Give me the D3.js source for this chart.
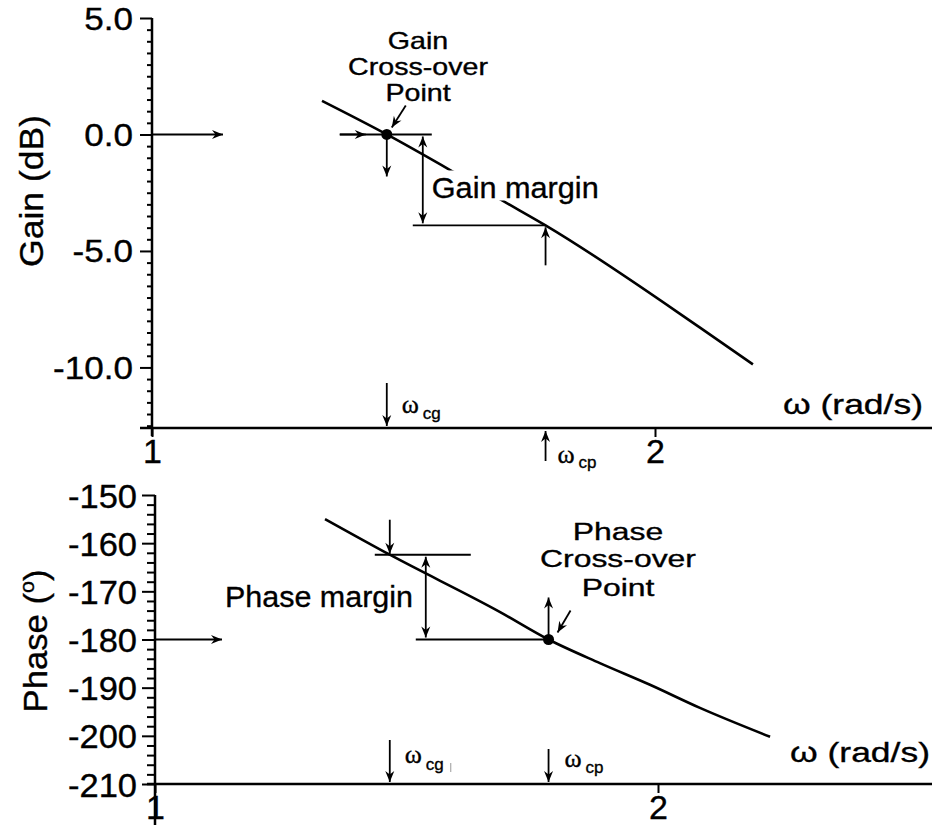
<!DOCTYPE html>
<html><head><meta charset="utf-8">
<script src="https://cdn.jsdelivr.net/npm/d3@7"></script>
<style>html,body{margin:0;padding:0;background:#fff;} svg{display:block;} text{stroke:#000;stroke-width:0.35px;}</style>
</head><body><svg id="c" width="932" height="825"></svg>
<script>
// ---------- data ----------
const gainOmega = [1.264, 1.382, 1.514, 1.622, 1.72, 2.128, 2.289];
const gainDb    = [1.44, 0.0, -1.6, -2.85, -3.9, -8.29, -9.87];
const phaseOmega = [1.264, 1.382, 1.609, 1.72, 1.846, 1.978, 2.119, 2.334];
const phaseDeg   = [-155.0, -162.4, -174.3, -180.0, -184.9, -189.4, -194.2, -200.2];
const gainMajorTicks  = [5, 0, -5, -10];
const phaseMajorTicks = [-150, -160, -170, -180, -190, -200, -210];
const freqTicks = [1, 2];
const omegaCg = 1.382, omegaCp = 1.72;
const gainCross = 0, gainMarginDb = -3.9;
const phaseCross = -180, phaseAtCg = -162.4;

// ---------- setup ----------
const SANS = "'Liberation Sans', Arial, Helvetica, sans-serif";
const SERIF = "'Liberation Serif', 'Times New Roman', serif";
const W = 932;
const svg = d3.select("#c");

svg.append("defs").append("marker")
  .attr("id", "ah").attr("viewBox", "-12 -6 14 12")
  .attr("refX", 0).attr("refY", 0)
  .attr("markerWidth", 14).attr("markerHeight", 12)
  .attr("markerUnits", "userSpaceOnUse").attr("orient", "auto-start-reverse")
  .append("path").attr("d", "M0,0 L-11,-4.5 L-7.5,0 L-11,4.5 Z").attr("fill", "#000");

function line(x1, y1, x2, y2, w = 1.8) {
  return svg.append("line").attr("x1", x1).attr("y1", y1).attr("x2", x2).attr("y2", y2)
    .attr("stroke", "#000").attr("stroke-width", w);
}
function arrow(x1, y1, x2, y2, both = false) {
  const p = svg.append("path").attr("d", `M${x1},${y1}L${x2},${y2}`)
    .attr("stroke", "#000").attr("stroke-width", 1.8).attr("fill", "none")
    .attr("marker-end", "url(#ah)");
  if (both) p.attr("marker-start", "url(#ah)");
  return p;
}
function txt(x, y, s, size, opt = {}) {
  const g = svg.append("g");
  const t = g.append("text").attr("font-size", size).attr("font-family", opt.family || SANS)
    .attr("text-anchor", opt.anchor || "start").attr("fill", "#000").text(s);
  let sx = 1;
  if (opt.width) sx = opt.width / t.node().getComputedTextLength();
  if (opt.sx) sx = opt.sx;
  g.attr("transform", `translate(${x},${y})${opt.rot ? " rotate(" + opt.rot + ")" : ""} scale(${sx},1)`);
  g.sx = sx; g.t = t;
  return g;
}
function measure(s, size) {
  const t = svg.append("text").attr("font-size", size).attr("font-family", SANS).text(s);
  const w = t.node().getComputedTextLength(); t.remove(); return w;
}

// ---------- scales ----------
const xG = d3.scaleLog().domain([1, 2]).range([152, 655]);
const yG = d3.scaleLinear().domain([-12.6, 5]).range([428, 18]);
const xP = d3.scaleLog().domain([1, 2]).range([155, 658]);
const yP = d3.scaleLinear().domain([-210, -150]).range([784, 495]);

const gainMinor = d3.range(-12.5, 5.001, 0.5).filter(d => Math.abs(d % 5) > 1e-9);
const phaseMinor = d3.range(-210, -149, 2).filter(d => d % 10 !== 0);

// ---------- axes ----------
function yAxis(scale, x, majors, minors, majLen, minLen, fmt, fontSize, refLabel, refWidth, gap, dyBase) {
  svg.append("g").attr("transform", `translate(${x},0)`)
    .call(d3.axisLeft(scale).tickValues(minors).tickSize(minLen).tickFormat(""))
    .call(g => g.select(".domain").remove())
    .call(g => g.selectAll("line").attr("stroke", "#000").attr("stroke-width", 2));
  const sx = refWidth / measure(refLabel, fontSize);
  svg.append("g").attr("transform", `translate(${x},0)`)
    .call(d3.axisLeft(scale).tickValues(majors).tickSize(majLen).tickPadding(0).tickFormat(fmt))
    .call(g => g.select(".domain").remove())
    .call(g => g.selectAll("line").attr("stroke", "#000").attr("stroke-width", 2))
    .call(g => g.selectAll("text").attr("font-size", fontSize).attr("font-family", SANS)
      .attr("fill", "#000").attr("dy", 0).attr("y", dyBase).attr("x", -gap / sx)
      .attr("transform", `scale(${sx},1)`));
}
function xAxis(scale, y) {
  svg.append("g").attr("transform", `translate(0,${y})`)
    .call(d3.axisBottom(scale).tickValues(freqTicks).tickSize(9).tickPadding(0).tickFormat(d3.format("d")))
    .call(g => g.select(".domain").remove())
    .call(g => g.selectAll("line").attr("stroke", "#000").attr("stroke-width", 2))
    .call(g => g.selectAll("text").attr("font-size", 34).attr("font-family", SANS)
      .attr("fill", "#000").attr("dy", 0).attr("y", 35));
}

// Top (gain) panel axes
const topAxisY = yG(-12.6);
yAxis(yG, xG(1), gainMajorTicks, gainMinor, 12, 5, d => d.toFixed(1), 30.5, "-10.0", 80, 19, 11);
line(xG(1), yG(5), xG(1), topAxisY + 8, 2.5);
line(140, topAxisY, W, topAxisY, 2.5);
xAxis(xG, topAxisY);

// Bottom (phase) panel axes
const botAxisY = yP(-210);
yAxis(yP, xP(1), phaseMajorTicks, phaseMinor, 13, 8, d => String(d), 32.5, "-150", 69, 18, 12);
line(xP(1), yP(-150), xP(1), 825, 2.5);
line(147, botAxisY, W, botAxisY, 2.5);
xAxis(xP, botAxisY);

// axis titles
txt(43, 191, "Gain (dB)", 33, { anchor: "middle", rot: -90, width: 152 });
{
  const g = svg.append("g");
  const t = g.append("text").attr("font-size", 34).attr("font-family", SANS).attr("text-anchor", "middle").attr("fill", "#000");
  t.append("tspan").text("Phase (");
  t.append("tspan").attr("font-size", "0.62em").attr("dy", "-0.62em").text("o");
  t.append("tspan").attr("dy", "0.385em").text(")");
  const sx = 143 / t.node().getComputedTextLength();
  g.attr("transform", `translate(47,641) rotate(-90) scale(${sx},1)`);
}

// ---------- curves ----------
const gainData = gainOmega.map((w, i) => [w, gainDb[i]]);
const phaseData = phaseOmega.map((w, i) => [w, phaseDeg[i]]);
svg.append("path").datum(gainData)
  .attr("d", d3.line().x(d => xG(d[0])).y(d => yG(d[1])).curve(d3.curveMonotoneX))
  .attr("fill", "none").attr("stroke", "#000").attr("stroke-width", 2.6);
svg.append("path").datum(phaseData)
  .attr("d", d3.line().x(d => xP(d[0])).y(d => yP(d[1])).curve(d3.curveMonotoneX))
  .attr("fill", "none").attr("stroke", "#000").attr("stroke-width", 2.6);

// ---------- gain annotations ----------
const gx = xG(omegaCg), g0 = yG(gainCross), gm = yG(gainMarginDb), gxp = xG(omegaCp);
{
  const g = txt(gx + 45, g0 + 64, "Gain margin", 29, { width: 167 });
  const bb = g.t.node().getBBox();
  g.insert("rect", "text").attr("x", bb.x - 1).attr("y", -28).attr("width", bb.width + 2).attr("height", 30).attr("fill", "#fff");
}
arrow(xG(1), g0, xG(1) + 71, g0);                 // left arrow at 0 dB
line(gx - 47, g0, gx + 45, g0);                    // 0 dB reference line
arrow(gx - 47, g0, gx - 21, g0);                   // arrowhead on it
arrow(gx, g0, gx, g0 + 42);                        // down arrow from cross-over
line(gx + 26, gm, gxp, gm);                        // gain margin level
arrow(gx + 36, g0 + 2, gx + 36, gm - 2, true);     // gain margin double arrow
arrow(gxp, gm + 40, gxp, gm + 2);                  // up arrow at omega_cp
arrow(gx + 19, g0 - 29, gx + 5, g0 - 7);           // pointer to the dot
svg.append("circle").attr("cx", gx).attr("cy", g0).attr("r", 5.5).attr("fill", "#000");
{
  const sx = 140 / measure("Cross-over", 23);
  txt(418, 49, "Gain", 23, { anchor: "middle", sx });
  txt(418, 75, "Cross-over", 23, { anchor: "middle", sx });
  txt(418, 101, "Point", 23, { anchor: "middle", sx });
}
arrow(gx, topAxisY - 45, gx, topAxisY - 2);
txt(gx + 15, topAxisY - 15, "ω", 26, { family: SERIF });
txt(gx + 36, topAxisY - 9, "cg", 17);
arrow(gxp, topAxisY + 33, gxp, topAxisY + 3);
txt(gxp + 12, topAxisY + 35, "ω", 26, { family: SERIF });
txt(gxp + 33, topAxisY + 40, "cp", 17);
const wSx = 140 / measure("ω (rad/s)", 28);
txt(783, 414, "ω (rad/s)", 28, { sx: wSx });

// ---------- phase annotations ----------
const px = xP(omegaCg), pTop = yP(phaseAtCg), p180 = yP(phaseCross), pxp = xP(omegaCp);
arrow(xP(1), p180, xP(1) + 67, p180);              // left arrow at -180
arrow(px, pTop - 35, px, pTop - 1);                // down arrow at omega_cg
line(px - 15, pTop, px + 81, pTop);                // phase at omega_cg level
line(px + 26, p180, pxp, p180);                    // -180 level
arrow(px + 36, pTop + 2, px + 36, p180 - 2, true); // phase margin double arrow
arrow(pxp, p180, pxp, p180 - 42);                  // up arrow at cross-over
arrow(pxp + 22, p180 - 29, pxp + 9, p180 - 7);     // pointer to the dot
svg.append("circle").attr("cx", pxp).attr("cy", p180).attr("r", 5.5).attr("fill", "#000");
txt(225, 607, "Phase margin", 29, { width: 188 });
{
  const sx = 156 / measure("Cross-over", 24.5);
  txt(618, 540, "Phase", 24.5, { anchor: "middle", sx });
  txt(618, 567, "Cross-over", 24.5, { anchor: "middle", sx });
  txt(618, 596, "Point", 24.5, { anchor: "middle", sx });
}
arrow(px, botAxisY - 44, px, botAxisY - 2);
txt(px + 15, botAxisY - 21, "ω", 26, { family: SERIF });
txt(px + 36, botAxisY - 14, "cg", 17);
line(px + 61, botAxisY - 21, px + 61, botAxisY - 12, 1).attr("stroke", "#999");
arrow(pxp, botAxisY - 35, pxp, botAxisY - 2);
txt(pxp + 16, botAxisY - 17, "ω", 26, { family: SERIF });
txt(pxp + 37, botAxisY - 11, "cp", 17);
txt(790, 762, "ω (rad/s)", 28, { sx: wSx });
</script>
</body></html>
